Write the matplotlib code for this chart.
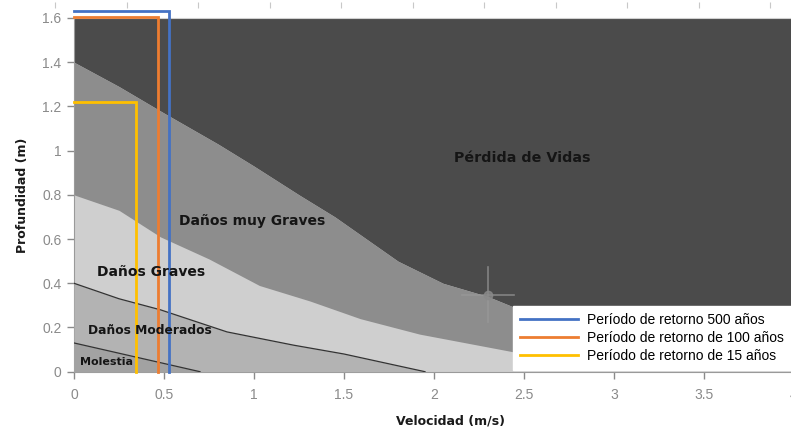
import matplotlib
matplotlib.use("Agg")
import matplotlib.pyplot as plt
from matplotlib.lines import Line2D

# ---- data ----
# boundary between "Pérdida de Vidas" and "Daños muy Graves"
dark_x = [0, 0.25, 0.5, 0.8, 1.0, 1.25, 1.45, 1.8, 2.05, 2.3, 2.45, 3.0, 3.5, 4.0]
dark_y = [1.40, 1.29, 1.17, 1.03, 0.93, 0.80, 0.70, 0.50, 0.40, 0.34, 0.29, 0.22, 0.17, 0.14]
# boundary between "Daños muy Graves" and "Daños Graves"
graves_x = [0, 0.25, 0.48, 0.75, 1.03, 1.31, 1.59, 1.92, 2.18, 2.44, 3.0, 3.5, 4.0]
graves_y = [0.80, 0.73, 0.61, 0.51, 0.39, 0.32, 0.24, 0.17, 0.13, 0.09, 0.06, 0.045, 0.035]
# boundary between "Daños Graves" and "Daños Moderados"
mod_x = [0, 0.25, 0.48, 0.85, 1.22, 1.5, 1.95]
mod_y = [0.40, 0.33, 0.28, 0.18, 0.12, 0.08, 0.0]
# boundary between "Daños Moderados" and "Molestias"
mol_x = [0, 0.35, 0.70]
mol_y = [0.13, 0.065, 0.0]
y_max = 1.6

# return periods: velocity (vertical line) and depth (horizontal top)
periods = ["Período de retorno 500 años",
           "Período de retorno de 100 años",
           "Período de retorno de 15 años"]
period_vel = [0.527, 0.465, 0.344]
period_depth = [1.632, 1.606, 1.222]
period_colors = ["#4472C4", "#ED7D31", "#FFC000"]

zone_labels = ["Pérdida de Vidas", "Daños muy Graves", "Daños Graves",
               "Daños Moderados", "Molestia"]
zone_label_x = [2.49, 0.99, 0.43, 0.42, 0.18]
zone_label_y = [0.965, 0.68, 0.45, 0.185, 0.045]
zone_label_size = [10.3, 10, 10, 8.8, 8]

cursor_x, cursor_y = 2.30, 0.348

xticks = [0, 0.5, 1, 1.5, 2, 2.5, 3, 3.5, 4]
xtick_labels = ["0", "0.5", "1", "1.5", "2", "2.5", "3", "3.5", "4"]
yticks = [0, 0.2, 0.4, 0.6, 0.8, 1.0, 1.2, 1.4, 1.6]
ytick_labels = ["0", "0.2", "0.4", "0.6", "0.8", "1", "1.2", "1.4", "1.6"]

# ---- colours ----
c_dark = "#4b4b4b"
c_muy = "#8d8d8d"
c_graves = "#cfcfcf"
c_mod = "#b3b3b3"
c_mol = "#a2a2a2"

W, H = 791, 434
fig = plt.figure(figsize=(W / 100, H / 100), dpi=100)
ax = fig.add_axes([74 / W, (H - 371.7) / H, 720 / W, 353.7 / H])

ax.fill_between(dark_x, 0, dark_y, color=c_muy, lw=0, zorder=1)
ax.fill_between(dark_x, dark_y, y_max, color=c_dark, lw=0, zorder=1)
ax.fill_between(graves_x, 0, graves_y, color=c_graves, lw=0, zorder=2)
ax.fill_between(mod_x, 0, mod_y, color=c_mod, lw=0, zorder=3)
ax.plot(mod_x, mod_y, color="#333333", lw=0.9, zorder=4)
ax.fill_between(mol_x, 0, mol_y, color=c_mol, lw=0, zorder=5)
ax.plot(mol_x, mol_y, color="#333333", lw=0.9, zorder=6)

# cursor artefact
ax.plot([cursor_x - 0.145, cursor_x + 0.145], [cursor_y, cursor_y],
        color="#9a9a9a", lw=1.2, alpha=0.7, zorder=7)
ax.plot([cursor_x, cursor_x], [cursor_y - 0.125, cursor_y + 0.125],
        color="#9a9a9a", lw=1.2, alpha=0.7, zorder=7)
ax.plot([cursor_x], [cursor_y], "o", ms=6, color="#8a8a8a", alpha=0.8, zorder=7)

for v, d, c in zip(period_vel, period_depth, period_colors):
    ax.plot([0, v, v], [d, d, 0], color=c, lw=2, zorder=8, clip_on=False,
            solid_joinstyle="miter")

for t, x, y, s in zip(zone_labels, zone_label_x, zone_label_y, zone_label_size):
    ax.text(x, y, t, ha="center", va="center", fontsize=s, fontweight="bold",
            color="#151515", zorder=9)

ax.set_xlim(0, 4)
ax.set_ylim(0, y_max)
ax.set_xticks(xticks)
ax.set_xticklabels(xtick_labels, family="Liberation Sans")
ax.set_yticks(yticks)
ax.set_yticklabels(ytick_labels, family="Liberation Sans")
ax.tick_params(axis="both", colors="#8a8a8a", labelsize=10, length=5, width=1)
ax.tick_params(axis="x", pad=7)
ax.tick_params(axis="y", pad=4)
ax.spines["right"].set_visible(False)
ax.spines["top"].set_color("#d0d0d0")
ax.spines["left"].set_color("#9a9a9a")
ax.spines["bottom"].set_color("#9a9a9a")

ax.set_xlabel("Velocidad (m/s)", fontsize=9, fontweight="bold", color="#1a1a1a")
ax.set_ylabel("Profundidad (m)", fontsize=9, fontweight="bold", color="#1a1a1a")
ax.xaxis.set_label_coords((450 - 74) / 720, (371.7 - 415) / 353.7)
ax.yaxis.set_label_coords((29 - 74) / 720, 0.5)

handles = [Line2D([], [], color=c, lw=2) for c in period_colors]
leg = fig.legend(handles, periods, loc="lower left",
                 bbox_to_anchor=(513 / W, (H - 370) / H),
                 prop={"family": "Liberation Sans", "size": 10},
                 frameon=True, fancybox=False, framealpha=1,
                 borderaxespad=0, borderpad=0.5, handlelength=4.2,
                 handletextpad=0.65, labelspacing=0.28)
leg.get_frame().set_edgecolor("white")
leg.get_frame().set_facecolor("white")
leg.set_zorder(20)

# faint ticks of a secondary axis at the very top
top = fig.add_axes([55 / W, (H - 5) / H, 715 / W, 0.0001])
top.set_xlim(0, 10)
top.set_xticks(range(11))
top.set_xticklabels([])
top.set_yticks([])
for s in top.spines.values():
    s.set_visible(False)
top.patch.set_alpha(0)
top.tick_params(axis="x", direction="inout", length=5, color="#c8c8c8")

fig.savefig("out.png", dpi=100)
